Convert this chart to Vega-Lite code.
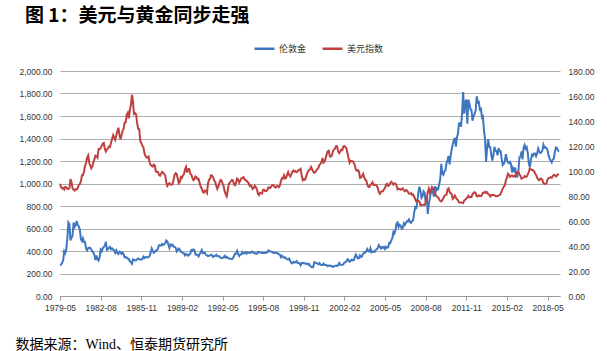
{
  "$schema": "https://vega.github.io/schema/vega-lite/v6.json",
  "width": 500,
  "height": 225,
  "autosize": {"type": "none"},
  "padding": {"left": 60, "top": 71, "right": 47, "bottom": 55},
  "background": "white",
  "title": {
    "text": "图 1：美元与黄金同步走强",
    "anchor": "start",
    "frame": "group",
    "dx": -35,
    "offset": 2,
    "baseline": "middle",
    "font": "Noto Sans CJK SC",
    "fontSize": 19,
    "fontWeight": "bold",
    "color": "#000000"
  },
  "data": {
    "values": [
{"m":"1979-05","g":275,"u":89.8},{"m":"1979-06","g":278,"u":87.2},{"m":"1979-07","g":296,"u":86.0},{"m":"1979-08","g":315,"u":86.5},{"m":"1979-09","g":397,"u":85.3},{"m":"1979-10","g":382,"u":87.2},{"m":"1979-11","g":415,"u":87.0},{"m":"1979-12","g":512,"u":85.8},
{"m":"1980-01","g":653,"u":85.6},{"m":"1980-02","g":637,"u":86.2},{"m":"1980-03","g":494,"u":93.5},{"m":"1980-04","g":518,"u":91.0},{"m":"1980-05","g":535,"u":86.3},{"m":"1980-06","g":653,"u":85.0},{"m":"1980-07","g":614,"u":84.3},{"m":"1980-08","g":631,"u":85.5},{"m":"1980-09","g":666,"u":85.2},{"m":"1980-10","g":629,"u":86.3},{"m":"1980-11","g":619,"u":88.9},{"m":"1980-12","g":590,"u":89.5},
{"m":"1981-01","g":506,"u":91.8},{"m":"1981-02","g":489,"u":96.6},{"m":"1981-03","g":513,"u":96.6},{"m":"1981-04","g":482,"u":99.4},{"m":"1981-05","g":480,"u":104.2},{"m":"1981-06","g":423,"u":106.6},{"m":"1981-07","g":406,"u":110.8},{"m":"1981-08","g":425,"u":112.4},{"m":"1981-09","g":428,"u":106.6},{"m":"1981-10","g":427,"u":104.4},{"m":"1981-11","g":414,"u":102.1},{"m":"1981-12","g":397,"u":103.7},
{"m":"1982-01","g":387,"u":106.9},{"m":"1982-02","g":363,"u":109.5},{"m":"1982-03","g":320,"u":112.3},{"m":"1982-04","g":361,"u":112.0},{"m":"1982-05","g":326,"u":110.7},{"m":"1982-06","g":315,"u":117.6},{"m":"1982-07","g":342,"u":117.5},{"m":"1982-08","g":411,"u":118.3},{"m":"1982-09","g":397,"u":120.1},{"m":"1982-10","g":423,"u":121.9},{"m":"1982-11","g":436,"u":122.5},{"m":"1982-12","g":448,"u":117.6},
{"m":"1983-01","g":481,"u":115.6},{"m":"1983-02","g":409,"u":117.5},{"m":"1983-03","g":415,"u":118.0},{"m":"1983-04","g":429,"u":119.6},{"m":"1983-05","g":437,"u":119.3},{"m":"1983-06","g":416,"u":122.6},{"m":"1983-07","g":423,"u":125.6},{"m":"1983-08","g":414,"u":128.7},{"m":"1983-09","g":405,"u":126.8},{"m":"1983-10","g":383,"u":124.9},{"m":"1983-11","g":405,"u":128.5},{"m":"1983-12","g":382,"u":131.7},
{"m":"1984-01","g":373,"u":134.6},{"m":"1984-02","g":394,"u":129.0},{"m":"1984-03","g":388,"u":125.3},{"m":"1984-04","g":375,"u":128.4},{"m":"1984-05","g":385,"u":132.2},{"m":"1984-06","g":373,"u":133.7},{"m":"1984-07","g":343,"u":138.7},{"m":"1984-08","g":348,"u":138.9},{"m":"1984-09","g":341,"u":145.0},{"m":"1984-10","g":333,"u":146.6},{"m":"1984-11","g":329,"u":142.2},{"m":"1984-12","g":309,"u":148.4},
{"m":"1985-01","g":303,"u":152.8},{"m":"1985-02","g":288,"u":161.0},{"m":"1985-03","g":325,"u":156.0},{"m":"1985-04","g":322,"u":145.7},{"m":"1985-05","g":316,"u":146.3},{"m":"1985-06","g":317,"u":145.4},{"m":"1985-07","g":327,"u":138.5},{"m":"1985-08","g":333,"u":133.8},{"m":"1985-09","g":326,"u":133.4},{"m":"1985-10","g":325,"u":124.2},{"m":"1985-11","g":325,"u":122.4},{"m":"1985-12","g":327,"u":120.2},
{"m":"1986-01","g":350,"u":119.1},{"m":"1986-02","g":338,"u":114.3},{"m":"1986-03","g":345,"u":112.1},{"m":"1986-04","g":346,"u":111.1},{"m":"1986-05","g":343,"u":110.6},{"m":"1986-06","g":345,"u":111.5},{"m":"1986-07","g":357,"u":107.0},{"m":"1986-08","g":385,"u":104.7},{"m":"1986-09","g":423,"u":104.3},{"m":"1986-10","g":402,"u":103.6},{"m":"1986-11","g":384,"u":105.1},{"m":"1986-12","g":391,"u":104.2},
{"m":"1987-01","g":405,"u":99.4},{"m":"1987-02","g":406,"u":99.4},{"m":"1987-03","g":421,"u":99.3},{"m":"1987-04","g":451,"u":97.0},{"m":"1987-05","g":451,"u":96.3},{"m":"1987-06","g":448,"u":97.8},{"m":"1987-07","g":462,"u":99.4},{"m":"1987-08","g":454,"u":98.7},{"m":"1987-09","g":460,"u":97.4},{"m":"1987-10","g":469,"u":96.5},{"m":"1987-11","g":493,"u":90.8},{"m":"1987-12","g":484,"u":88.1},
{"m":"1988-01","g":458,"u":89.5},{"m":"1988-02","g":427,"u":90.3},{"m":"1988-03","g":457,"u":89.3},{"m":"1988-04","g":449,"u":88.9},{"m":"1988-05","g":455,"u":89.7},{"m":"1988-06","g":437,"u":92.9},{"m":"1988-07","g":437,"u":96.9},{"m":"1988-08","g":428,"u":98.3},{"m":"1988-09","g":397,"u":97.7},{"m":"1988-10","g":412,"u":94.0},{"m":"1988-11","g":422,"u":90.3},{"m":"1988-12","g":410,"u":91.4},
{"m":"1989-01","g":394,"u":95.2},{"m":"1989-02","g":387,"u":94.5},{"m":"1989-03","g":383,"u":96.4},{"m":"1989-04","g":378,"u":97.5},{"m":"1989-05","g":361,"u":101.4},{"m":"1989-06","g":373,"u":103.3},{"m":"1989-07","g":368,"u":98.8},{"m":"1989-08","g":359,"u":101.4},{"m":"1989-09","g":367,"u":101.5},{"m":"1989-10","g":375,"u":97.9},{"m":"1989-11","g":408,"u":97.1},{"m":"1989-12","g":401,"u":94.5},
{"m":"1990-01","g":415,"u":92.7},{"m":"1990-02","g":408,"u":93.5},{"m":"1990-03","g":368,"u":95.6},{"m":"1990-04","g":368,"u":95.1},{"m":"1990-05","g":363,"u":93.4},{"m":"1990-06","g":352,"u":93.7},{"m":"1990-07","g":372,"u":90.6},{"m":"1990-08","g":387,"u":87.5},{"m":"1990-09","g":408,"u":86.1},{"m":"1990-10","g":380,"u":83.5},{"m":"1990-11","g":384,"u":82.7},{"m":"1990-12","g":386,"u":84.3},
{"m":"1991-01","g":366,"u":83.9},{"m":"1991-02","g":362,"u":82.4},{"m":"1991-03","g":355,"u":89.6},{"m":"1991-04","g":357,"u":92.9},{"m":"1991-05","g":360,"u":93.6},{"m":"1991-06","g":368,"u":96.6},{"m":"1991-07","g":363,"u":96.4},{"m":"1991-08","g":347,"u":94.8},{"m":"1991-09","g":354,"u":92.3},{"m":"1991-10","g":357,"u":91.3},{"m":"1991-11","g":366,"u":88.1},{"m":"1991-12","g":353,"u":85.7},
{"m":"1992-01","g":354,"u":87.6},{"m":"1992-02","g":353,"u":90.5},{"m":"1992-03","g":341,"u":92.9},{"m":"1992-04","g":337,"u":92.4},{"m":"1992-05","g":337,"u":90.2},{"m":"1992-06","g":343,"u":88.1},{"m":"1992-07","g":357,"u":83.9},{"m":"1992-08","g":340,"u":81.6},{"m":"1992-09","g":349,"u":79.8},{"m":"1992-10","g":339,"u":84.6},{"m":"1992-11","g":334,"u":89.6},{"m":"1992-12","g":333,"u":90.6},
{"m":"1993-01","g":330,"u":91.8},{"m":"1993-02","g":327,"u":92.9},{"m":"1993-03","g":337,"u":92.3},{"m":"1993-04","g":355,"u":89.4},{"m":"1993-05","g":377,"u":88.6},{"m":"1993-06","g":378,"u":90.7},{"m":"1993-07","g":401,"u":93.9},{"m":"1993-08","g":372,"u":93.1},{"m":"1993-09","g":355,"u":90.7},{"m":"1993-10","g":369,"u":92.1},{"m":"1993-11","g":370,"u":94.1},{"m":"1993-12","g":391,"u":94.4},
{"m":"1994-01","g":378,"u":95.1},{"m":"1994-02","g":381,"u":93.4},{"m":"1994-03","g":389,"u":92.6},{"m":"1994-04","g":376,"u":92.5},{"m":"1994-05","g":387,"u":91.2},{"m":"1994-06","g":385,"u":90.5},{"m":"1994-07","g":385,"u":88.1},{"m":"1994-08","g":385,"u":88.7},{"m":"1994-09","g":395,"u":87.4},{"m":"1994-10","g":390,"u":85.6},{"m":"1994-11","g":383,"u":86.6},{"m":"1994-12","g":383,"u":88.2},
{"m":"1995-01","g":375,"u":87.0},{"m":"1995-02","g":376,"u":85.3},{"m":"1995-03","g":392,"u":81.8},{"m":"1995-04","g":389,"u":80.7},{"m":"1995-05","g":385,"u":82.6},{"m":"1995-06","g":388,"u":82.2},{"m":"1995-07","g":383,"u":82.0},{"m":"1995-08","g":383,"u":85.0},{"m":"1995-09","g":384,"u":85.0},{"m":"1995-10","g":383,"u":83.8},{"m":"1995-11","g":387,"u":83.9},{"m":"1995-12","g":387,"u":84.8},
{"m":"1996-01","g":405,"u":86.9},{"m":"1996-02","g":400,"u":86.3},{"m":"1996-03","g":396,"u":86.7},{"m":"1996-04","g":392,"u":88.1},{"m":"1996-05","g":391,"u":88.8},{"m":"1996-06","g":382,"u":88.6},{"m":"1996-07","g":385,"u":87.4},{"m":"1996-08","g":387,"u":86.7},{"m":"1996-09","g":379,"u":87.8},{"m":"1996-10","g":379,"u":87.9},{"m":"1996-11","g":371,"u":87.0},{"m":"1996-12","g":369,"u":88.1},
{"m":"1997-01","g":345,"u":91.9},{"m":"1997-02","g":358,"u":94.3},{"m":"1997-03","g":349,"u":94.0},{"m":"1997-04","g":340,"u":96.5},{"m":"1997-05","g":345,"u":94.1},{"m":"1997-06","g":334,"u":94.4},{"m":"1997-07","g":326,"u":97.1},{"m":"1997-08","g":325,"u":99.2},{"m":"1997-09","g":332,"u":96.8},{"m":"1997-10","g":311,"u":95.6},{"m":"1997-11","g":296,"u":97.3},{"m":"1997-12","g":290,"u":99.6},
{"m":"1998-01","g":303,"u":100.4},{"m":"1998-02","g":297,"u":99.5},{"m":"1998-03","g":301,"u":100.0},{"m":"1998-04","g":310,"u":99.2},{"m":"1998-05","g":294,"u":99.5},{"m":"1998-06","g":296,"u":100.8},{"m":"1998-07","g":289,"u":100.9},{"m":"1998-08","g":273,"u":101.6},{"m":"1998-09","g":294,"u":96.2},{"m":"1998-10","g":292,"u":92.7},{"m":"1998-11","g":294,"u":93.6},{"m":"1998-12","g":288,"u":93.0},
{"m":"1999-01","g":287,"u":94.6},{"m":"1999-02","g":288,"u":97.7},{"m":"1999-03","g":280,"u":99.5},{"m":"1999-04","g":286,"u":100.6},{"m":"1999-05","g":268,"u":101.3},{"m":"1999-06","g":261,"u":103.2},{"m":"1999-07","g":255,"u":101.4},{"m":"1999-08","g":255,"u":99.7},{"m":"1999-09","g":300,"u":98.6},{"m":"1999-10","g":299,"u":99.0},{"m":"1999-11","g":292,"u":100.5},{"m":"1999-12","g":290,"u":101.5},
{"m":"2000-01","g":283,"u":102.3},{"m":"2000-02","g":293,"u":105.0},{"m":"2000-03","g":279,"u":105.7},{"m":"2000-04","g":276,"u":107.2},{"m":"2000-05","g":275,"u":110.4},{"m":"2000-06","g":288,"u":106.8},{"m":"2000-07","g":277,"u":107.6},{"m":"2000-08","g":278,"u":110.3},{"m":"2000-09","g":273,"u":113.5},{"m":"2000-10","g":264,"u":115.8},{"m":"2000-11","g":270,"u":116.2},{"m":"2000-12","g":273,"u":111.6},
{"m":"2001-01","g":265,"u":111.4},{"m":"2001-02","g":267,"u":112.5},{"m":"2001-03","g":258,"u":115.9},{"m":"2001-04","g":263,"u":117.0},{"m":"2001-05","g":268,"u":118.1},{"m":"2001-06","g":270,"u":119.9},{"m":"2001-07","g":266,"u":119.8},{"m":"2001-08","g":273,"u":115.5},{"m":"2001-09","g":293,"u":114.3},{"m":"2001-10","g":279,"u":115.7},{"m":"2001-11","g":275,"u":117.0},{"m":"2001-12","g":277,"u":116.8},
{"m":"2002-01","g":282,"u":119.7},{"m":"2002-02","g":297,"u":119.9},{"m":"2002-03","g":301,"u":119.1},{"m":"2002-04","g":308,"u":117.9},{"m":"2002-05","g":327,"u":114.2},{"m":"2002-06","g":318,"u":110.3},{"m":"2002-07","g":304,"u":106.6},{"m":"2002-08","g":312,"u":108.2},{"m":"2002-09","g":323,"u":107.9},{"m":"2002-10","g":317,"u":107.9},{"m":"2002-11","g":319,"u":106.6},{"m":"2002-12","g":347,"u":104.5},
{"m":"2003-01","g":368,"u":101.0},{"m":"2003-02","g":348,"u":100.2},{"m":"2003-03","g":334,"u":100.7},{"m":"2003-04","g":336,"u":99.5},{"m":"2003-05","g":361,"u":94.5},{"m":"2003-06","g":346,"u":94.7},{"m":"2003-07","g":354,"u":96.1},{"m":"2003-08","g":375,"u":97.7},{"m":"2003-09","g":388,"u":95.1},{"m":"2003-10","g":386,"u":92.9},{"m":"2003-11","g":398,"u":92.4},{"m":"2003-12","g":417,"u":89.0},
{"m":"2004-01","g":399,"u":87.3},{"m":"2004-02","g":396,"u":87.2},{"m":"2004-03","g":424,"u":89.0},{"m":"2004-04","g":388,"u":89.7},{"m":"2004-05","g":393,"u":91.0},{"m":"2004-06","g":396,"u":88.8},{"m":"2004-07","g":391,"u":88.8},{"m":"2004-08","g":408,"u":89.1},{"m":"2004-09","g":416,"u":88.4},{"m":"2004-10","g":426,"u":86.4},{"m":"2004-11","g":453,"u":83.2},{"m":"2004-12","g":438,"u":81.8},
{"m":"2005-01","g":422,"u":83.2},{"m":"2005-02","g":435,"u":83.9},{"m":"2005-03","g":427,"u":83.9},{"m":"2005-04","g":436,"u":85.4},{"m":"2005-05","g":418,"u":86.4},{"m":"2005-06","g":437,"u":89.1},{"m":"2005-07","g":429,"u":89.8},{"m":"2005-08","g":433,"u":88.1},{"m":"2005-09","g":473,"u":88.8},{"m":"2005-10","g":470,"u":90.3},{"m":"2005-11","g":495,"u":91.4},{"m":"2005-12","g":513,"u":90.6},
{"m":"2006-01","g":569,"u":89.1},{"m":"2006-02","g":557,"u":90.1},{"m":"2006-03","g":582,"u":90.1},{"m":"2006-04","g":644,"u":88.5},{"m":"2006-05","g":653,"u":85.3},{"m":"2006-06","g":613,"u":85.8},{"m":"2006-07","g":633,"u":85.7},{"m":"2006-08","g":624,"u":85.0},{"m":"2006-09","g":599,"u":85.7},{"m":"2006-10","g":604,"u":86.1},{"m":"2006-11","g":646,"u":84.5},{"m":"2006-12","g":632,"u":83.7},
{"m":"2007-01","g":650,"u":84.8},{"m":"2007-02","g":665,"u":84.3},{"m":"2007-03","g":662,"u":83.3},{"m":"2007-04","g":680,"u":82.0},{"m":"2007-05","g":659,"u":81.8},{"m":"2007-06","g":650,"u":82.3},{"m":"2007-07","g":665,"u":80.8},{"m":"2007-08","g":673,"u":81.2},{"m":"2007-09","g":743,"u":79.4},{"m":"2007-10","g":789,"u":77.4},{"m":"2007-11","g":783,"u":75.7},{"m":"2007-12","g":834,"u":76.6},
{"m":"2008-01","g":923,"u":76.2},{"m":"2008-02","g":971,"u":75.6},{"m":"2008-03","g":934,"u":72.8},{"m":"2008-04","g":871,"u":72.8},{"m":"2008-05","g":885,"u":72.9},{"m":"2008-06","g":930,"u":73.0},{"m":"2008-07","g":918,"u":72.8},{"m":"2008-08","g":834,"u":75.0},{"m":"2008-09","g":884,"u":77.6},{"m":"2008-10","g":730,"u":83.0},{"m":"2008-11","g":814,"u":86.0},{"m":"2008-12","g":870,"u":82.8},
{"m":"2009-01","g":919,"u":84.1},{"m":"2009-02","g":952,"u":87.1},{"m":"2009-03","g":917,"u":86.4},{"m":"2009-04","g":884,"u":84.7},{"m":"2009-05","g":976,"u":82.3},{"m":"2009-06","g":935,"u":80.2},{"m":"2009-07","g":955,"u":79.4},{"m":"2009-08","g":949,"u":78.8},{"m":"2009-09","g":996,"u":77.2},{"m":"2009-10","g":1040,"u":76.0},{"m":"2009-11","g":1175,"u":75.6},{"m":"2009-12","g":1088,"u":76.9},
{"m":"2010-01","g":1078,"u":78.3},{"m":"2010-02","g":1109,"u":80.2},{"m":"2010-03","g":1116,"u":80.9},{"m":"2010-04","g":1180,"u":81.0},{"m":"2010-05","g":1208,"u":85.4},{"m":"2010-06","g":1245,"u":86.2},{"m":"2010-07","g":1170,"u":83.4},{"m":"2010-08","g":1246,"u":82.2},{"m":"2010-09","g":1307,"u":81.4},{"m":"2010-10","g":1347,"u":77.7},{"m":"2010-11","g":1383,"u":78.6},{"m":"2010-12","g":1406,"u":80.4},
{"m":"2011-01","g":1327,"u":78.8},{"m":"2011-02","g":1411,"u":77.4},{"m":"2011-03","g":1439,"u":76.7},{"m":"2011-04","g":1535,"u":75.0},{"m":"2011-05","g":1536,"u":74.9},{"m":"2011-06","g":1505,"u":74.9},{"m":"2011-07","g":1628,"u":74.6},{"m":"2011-08","g":1813,"u":74.4},{"m":"2011-09","g":1620,"u":76.5},{"m":"2011-10","g":1722,"u":77.0},{"m":"2011-11","g":1746,"u":77.7},{"m":"2011-12","g":1531,"u":79.0},
{"m":"2012-01","g":1744,"u":80.2},{"m":"2012-02","g":1711,"u":78.9},{"m":"2012-03","g":1662,"u":79.3},{"m":"2012-04","g":1651,"u":79.3},{"m":"2012-05","g":1558,"u":81.5},{"m":"2012-06","g":1598,"u":82.6},{"m":"2012-07","g":1622,"u":83.0},{"m":"2012-08","g":1648,"u":82.3},{"m":"2012-09","g":1776,"u":79.8},{"m":"2012-10","g":1720,"u":79.7},{"m":"2012-11","g":1726,"u":80.6},{"m":"2012-12","g":1657,"u":80.0},
{"m":"2013-01","g":1664,"u":79.8},{"m":"2013-02","g":1588,"u":80.9},{"m":"2013-03","g":1598,"u":82.6},{"m":"2013-04","g":1469,"u":82.6},{"m":"2013-05","g":1394,"u":83.4},{"m":"2013-06","g":1192,"u":82.4},{"m":"2013-07","g":1314,"u":83.0},{"m":"2013-08","g":1394,"u":81.6},{"m":"2013-09","g":1326,"u":81.1},{"m":"2013-10","g":1324,"u":79.7},{"m":"2013-11","g":1253,"u":80.9},{"m":"2013-12","g":1204,"u":80.6},
{"m":"2014-01","g":1251,"u":80.8},{"m":"2014-02","g":1326,"u":80.7},{"m":"2014-03","g":1291,"u":80.0},{"m":"2014-04","g":1288,"u":79.8},{"m":"2014-05","g":1250,"u":80.0},{"m":"2014-06","g":1315,"u":80.5},{"m":"2014-07","g":1285,"u":80.7},{"m":"2014-08","g":1286,"u":81.8},{"m":"2014-09","g":1216,"u":84.1},{"m":"2014-10","g":1164,"u":85.7},{"m":"2014-11","g":1175,"u":87.5},{"m":"2014-12","g":1199,"u":88.6},
{"m":"2015-01","g":1260,"u":92.6},{"m":"2015-02","g":1214,"u":94.6},{"m":"2015-03","g":1187,"u":97.8},{"m":"2015-04","g":1180,"u":97.0},{"m":"2015-05","g":1191,"u":95.3},{"m":"2015-06","g":1171,"u":96.1},{"m":"2015-07","g":1098,"u":96.5},{"m":"2015-08","g":1135,"u":95.6},{"m":"2015-09","g":1114,"u":96.0},{"m":"2015-10","g":1142,"u":95.5},{"m":"2015-11","g":1061,"u":98.8},{"m":"2015-12","g":1060,"u":98.7},
{"m":"2016-01","g":1111,"u":99.2},{"m":"2016-02","g":1234,"u":97.4},{"m":"2016-03","g":1237,"u":96.0},{"m":"2016-04","g":1285,"u":93.9},{"m":"2016-05","g":1215,"u":94.3},{"m":"2016-06","g":1320,"u":94.8},{"m":"2016-07","g":1342,"u":96.0},{"m":"2016-08","g":1309,"u":95.2},{"m":"2016-09","g":1322,"u":95.4},{"m":"2016-10","g":1272,"u":97.3},{"m":"2016-11","g":1178,"u":99.4},{"m":"2016-12","g":1146,"u":102.2},
{"m":"2017-01","g":1212,"u":101.4},{"m":"2017-02","g":1255,"u":100.8},{"m":"2017-03","g":1245,"u":100.6},{"m":"2017-04","g":1266,"u":99.9},{"m":"2017-05","g":1266,"u":98.0},{"m":"2017-06","g":1243,"u":96.9},{"m":"2017-07","g":1267,"u":94.7},{"m":"2017-08","g":1311,"u":93.1},{"m":"2017-09","g":1283,"u":92.6},{"m":"2017-10","g":1271,"u":93.9},{"m":"2017-11","g":1275,"u":93.8},{"m":"2017-12","g":1291,"u":92.9},
{"m":"2018-01","g":1345,"u":90.3},{"m":"2018-02","g":1318,"u":89.7},{"m":"2018-03","g":1323,"u":89.8},{"m":"2018-04","g":1316,"u":90.0},{"m":"2018-05","g":1298,"u":93.3},{"m":"2018-06","g":1250,"u":94.3},{"m":"2018-07","g":1224,"u":94.4},{"m":"2018-08","g":1202,"u":95.1},{"m":"2018-09","g":1187,"u":94.6},{"m":"2018-10","g":1215,"u":95.9},{"m":"2018-11","g":1221,"u":96.8},{"m":"2018-12","g":1279,"u":96.8},
{"m":"2019-01","g":1320,"u":95.7},{"m":"2019-02","g":1316,"u":96.2},{"m":"2019-03","g":1295,"u":97.3},{"m":"2019-04","g":1283,"u":97.5}
    ],
    "format": {"parse": {"m": "date:'%Y-%m'"}}
  },
  "encoding": {
    "x": {
      "field": "m",
      "type": "temporal",
      "scale": {"domain": [{"year": 1979, "month": 5, "date": 1}, {"year": 2019, "month": 5, "date": 1}]},
      "axis": {
        "values": [
          {"year": 1979, "month": 5, "date": 1}, {"year": 1982, "month": 8, "date": 1}, {"year": 1985, "month": 11, "date": 1},
          {"year": 1989, "month": 2, "date": 1}, {"year": 1992, "month": 5, "date": 1}, {"year": 1995, "month": 8, "date": 1},
          {"year": 1998, "month": 11, "date": 1}, {"year": 2002, "month": 2, "date": 1}, {"year": 2005, "month": 5, "date": 1},
          {"year": 2008, "month": 8, "date": 1}, {"year": 2011, "month": 11, "date": 1}, {"year": 2015, "month": 2, "date": 1},
          {"year": 2018, "month": 5, "date": 1}
        ],
        "format": "%Y-%m",
        "grid": false,
        "domainColor": "#9A9A9A",
        "tickColor": "#9A9A9A",
        "tickSize": 4,
        "labelPadding": 3,
        "labelFlush": false,
        "labelOverlap": false,
        "title": "数据来源：Wind、恒泰期货研究所",
        "titleX": -45,
        "titleY": 48,
        "titleAlign": "left",
        "titleBaseline": "middle",
        "titleFont": "'Liberation Serif', 'Noto Sans CJK SC'",
        "titleFontSize": 14,
        "titleFontWeight": "normal",
        "titleColor": "#000000"
      }
    },
    "color": {
      "scale": {"domain": ["伦敦金", "美元指数"], "range": ["#3F76C0", "#C0403F"]},
      "legend": {
        "orient": "none",
        "legendX": 193,
        "legendY": -34,
        "direction": "horizontal",
        "title": null,
        "symbolType": "stroke",
        "symbolSize": 400,
        "symbolStrokeWidth": 2.5,
        "labelFont": "Noto Sans CJK SC",
        "labelFontSize": 9,
        "labelColor": "#333333",
        "labelOffset": 3,
        "columnPadding": 10,
        "padding": 0
      }
    }
  },
  "layer": [
    {
      "mark": {"type": "line", "strokeWidth": 2},
      "encoding": {
        "y": {
          "field": "g",
          "type": "quantitative",
          "scale": {"domain": [0, 2000]},
          "axis": {
            "orient": "left",
            "values": [0, 200, 400, 600, 800, 1000, 1200, 1400, 1600, 1800, 2000],
            "format": ",.2f",
            "title": null,
            "grid": true,
            "gridColor": "#ADADAD",
            "domain": false,
            "ticks": false,
            "labelPadding": 8
          }
        },
        "color": {"datum": "伦敦金"}
      }
    },
    {
      "mark": {"type": "line", "strokeWidth": 2},
      "encoding": {
        "y": {
          "field": "u",
          "type": "quantitative",
          "scale": {"domain": [0, 180]},
          "axis": {
            "orient": "right",
            "values": [0, 20, 40, 60, 80, 100, 120, 140, 160, 180],
            "format": ".2f",
            "title": null,
            "grid": false,
            "domain": false,
            "ticks": false,
            "labelPadding": 8
          }
        },
        "color": {"datum": "美元指数"}
      }
    }
  ],
  "resolve": {"scale": {"y": "independent"}},
  "config": {
    "view": {"stroke": null},
    "axis": {
      "labelFont": "Liberation Sans",
      "labelFontSize": 8.5,
      "labelColor": "#333333"
    }
  }
}
